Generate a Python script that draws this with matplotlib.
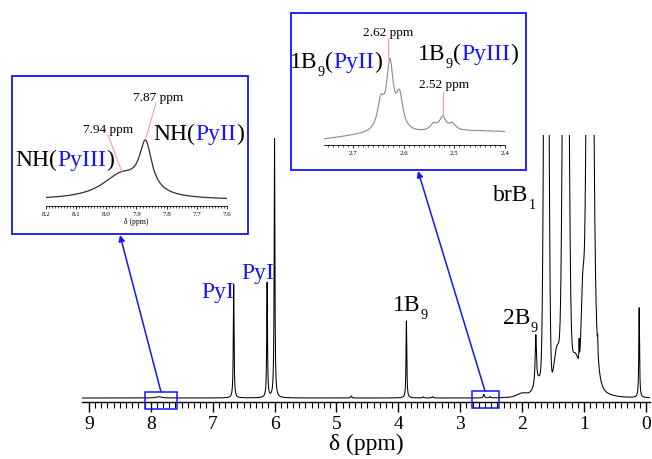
import numpy as np
import matplotlib
matplotlib.use("Agg")
import matplotlib.pyplot as plt
from matplotlib.patches import Rectangle
from matplotlib.ticker import FixedLocator

# ---------------- data ----------------
# main spectrum: sharp (Lorentzian) lines
main_lor_ppm = [7.87, 6.66, 6.12, 6.00, 4.76, 3.87, 3.60, 3.45, 2.62, 2.52, 1.78, 1.08, 0.78, 0.80, 0.11]
main_lor_height = [0.005, 0.433, 0.437, 0.985, 0.008, 0.293, 0.004, 0.005, 0.014, 0.005, 0.19, 0.08, 0.05, 0.17, 0.342]
main_lor_hwhm = [0.05, 0.007, 0.007, 0.007, 0.01, 0.007, 0.01, 0.01, 0.01, 0.01, 0.012, 0.004, 0.004, 0.05, 0.007]
# main spectrum: broad / big (Gaussian) components of the alkyl region
main_gau_ppm = [2.00, 1.70, 1.61, 1.43, 1.30, 1.296, 1.15, 1.02, 0.905]
main_gau_height = [0.012, 0.06, 3.5, 0.17, 0.03, 3.5, 0.14, 0.35, 3.5]
main_gau_sigma = [0.08, 0.08, 0.029, 0.055, 0.4, 0.0357, 0.08, 0.025, 0.0407]

# inset 1: NH region
nh_ppm = [7.87, 7.95]
nh_height = [0.8, 0.4]
nh_hwhm = [0.025, 0.08]

# inset 2: 1B9 region
b9_ppm = [2.645, 2.627, 2.608, 2.541, 2.523, 2.504]
b9_height = [0.33, 0.80, 0.40, 0.08, 0.16, 0.08]
b9_hwhm = [0.008, 0.008, 0.008, 0.008, 0.008, 0.008]
b9_bg_ppm = [2.45, 2.68]
b9_bg_height = [0.13, 0.04]
b9_bg_sigma = [0.15, 0.06]

main_ticks = [9, 8, 7, 6, 5, 4, 3, 2, 1, 0]
inset1_ticks = [8.2, 8.1, 8.0, 7.9, 7.8, 7.7, 7.6]
inset2_ticks = [2.7, 2.6, 2.5, 2.4]
peak_labels_inset1 = ["7.87 ppm", "7.94 ppm"]
peak_labels_inset2 = ["2.62 ppm", "2.52 ppm"]

# ---------------- helpers ----------------
SERIF = "Liberation Serif"
BLUE = "#1414ff"
PINK = "#ff9a9a"
W, H = 652, 459


def lor(x, c, h, g):
    return h * g ** 2 / ((x - c) ** 2 + g ** 2)


def gau(x, c, h, s):
    return h * np.exp(-0.5 * ((x - c) / s) ** 2)


def spectrum(x, lp, lh, lw, gp=(), gh=(), gs=()):
    y = np.zeros_like(x)
    for c, h, g in zip(lp, lh, lw):
        y += lor(x, c, h, g)
    for c, h, s in zip(gp, gh, gs):
        y += gau(x, c, h, s)
    return y


fig = plt.figure(figsize=(W / 100, H / 100), dpi=100)


def px_axes(x0, y0, x1, y1, **kw):
    return fig.add_axes([x0 / W, 1 - y1 / H, (x1 - x0) / W, (y1 - y0) / H], **kw)


def style_axis(ax, labelsize, majlen, minlen, width, pad):
    for s in ("left", "right", "top"):
        ax.spines[s].set_visible(False)
    ax.spines["bottom"].set_linewidth(width)
    ax.yaxis.set_visible(False)
    ax.set_facecolor("none")
    ax.tick_params(axis="x", which="major", direction="out", length=majlen,
                   width=width, labelsize=labelsize, pad=pad)
    ax.tick_params(axis="x", which="minor", direction="out", length=minlen, width=width * 0.8)
    for lab in ax.get_xticklabels():
        lab.set_fontfamily(SERIF)


# ---------------- main spectrum ----------------
ax = px_axes(82, 135, 650, 402)
x = np.linspace(9.11, -0.065, 40000)
y = spectrum(x, main_lor_ppm, main_lor_height, main_lor_hwhm,
             main_gau_ppm, main_gau_height, main_gau_sigma)
ax.plot(x, y, color="black", lw=0.75)
ax.set_xlim(9.11, -0.065)
ax.set_ylim(-4 / 263, 1.0)
ax.xaxis.set_major_locator(FixedLocator(main_ticks))
ax.xaxis.set_minor_locator(FixedLocator(np.round(np.arange(0, 9.001, 0.1), 2)))
ax.set_xticklabels([str(t) for t in main_ticks])
style_axis(ax, 14, 7, 4, 1.0, 3)
ax.set_xlabel("δ (ppm)", fontsize=17, fontfamily=SERIF, labelpad=1)

# ---------------- inset 1 (NH) ----------------
ax1 = px_axes(46, 95, 227, 206)
x1 = np.linspace(8.2, 7.6, 2000)
y1 = spectrum(x1, nh_ppm, nh_height, nh_hwhm)
ax1.plot(x1, y1, color="#303030", lw=0.9)
ax1.set_xlim(8.2, 7.6)
ax1.set_ylim(-0.1, 1.75)
ax1.xaxis.set_major_locator(FixedLocator(inset1_ticks))
ax1.xaxis.set_minor_locator(FixedLocator(np.round(np.arange(7.6, 8.2001, 0.01), 3)))
ax1.set_xticklabels([f"{t:.1f}" for t in inset1_ticks])
style_axis(ax1, 5, 2.5, 1.3, 0.6, 1.5)
ax1.set_xlabel("δ (ppm)", fontsize=5.5, fontfamily=SERIF, labelpad=1)

# ---------------- inset 2 (1B9) ----------------
ax2 = px_axes(324, 40, 505, 145)
x2 = np.linspace(2.757, 2.40, 2000)
y2 = spectrum(x2, b9_ppm, b9_height, b9_hwhm, b9_bg_ppm, b9_bg_height, b9_bg_sigma)
ax2.plot(x2, y2, color="#8a8a8a", lw=0.8)
ax2.set_xlim(2.757, 2.40)
ax2.set_ylim(-3 / 83, 102 / 83)
ax2.xaxis.set_major_locator(FixedLocator(inset2_ticks))
ax2.xaxis.set_minor_locator(FixedLocator(np.round(np.arange(2.40, 2.7501, 0.01), 3)))
ax2.set_xticklabels([f"{t:.1f}" for t in inset2_ticks])
style_axis(ax2, 5, 2.5, 1.3, 0.6, 1.5)

# ---------------- overlay (pixel coordinates, y down) ----------------
ov = fig.add_axes([0, 0, 1, 1], zorder=10)
ov.set_xlim(0, W)
ov.set_ylim(H, 0)
ov.axis("off")
ov.set_facecolor("none")

# inset frames and zoom boxes
for (x0, y0, w, h, lw) in [(12, 76, 236, 158, 1.3), (291, 13, 235, 157, 1.3),
                           (145, 392, 32, 17, 1.1), (472, 391, 27, 17, 1.1)]:
    ov.add_patch(Rectangle((x0, y0), w, h, fill=False, ec=BLUE, lw=lw))

# arrows from zoom boxes to insets
for (xs, ys, xe, ye) in [(161, 392, 120, 235), (485, 391, 418, 171)]:
    ov.annotate("", xy=(xe, ye), xytext=(xs, ys),
                arrowprops=dict(arrowstyle="-|>", color=BLUE, lw=1.1,
                                mutation_scale=9, shrinkA=0, shrinkB=0))

# pink leader lines
for (xa, ya, xb, yb) in [(156, 103, 146, 138), (108, 135, 122, 172),
                         (388, 38, 388, 58), (443, 92, 443, 115)]:
    ov.plot([xa, xb], [ya, yb], color=PINK, lw=0.8)

# ppm labels
ov.text(158, 101, peak_labels_inset1[0], fontsize=9.5, fontfamily=SERIF, ha="center", va="baseline")
ov.text(108, 133, peak_labels_inset1[1], fontsize=9.5, fontfamily=SERIF, ha="center", va="baseline")
ov.text(388, 36, peak_labels_inset2[0], fontsize=9.5, fontfamily=SERIF, ha="center", va="baseline")
ov.text(444, 88, peak_labels_inset2[1], fontsize=9.5, fontfamily=SERIF, ha="center", va="baseline")


def rich(x0, y0, pieces, size):
    prev = None
    prev_main = None
    for s, c, sub in pieces:
        if prev is None:
            t = ov.text(x0, y0, s, color=c, fontsize=size, fontfamily=SERIF,
                        ha="left", va="baseline")
            prev_main = t
        elif sub:
            t = ov.annotate(s, xy=(1, 0), xycoords=prev, xytext=(0.3, -4.3),
                            textcoords="offset points", fontsize=size * 0.6,
                            fontfamily=SERIF, color=c, ha="left", va="bottom")
        else:
            t = ov.annotate(s, xy=(1, 0), xycoords=(prev, prev_main), fontsize=size,
                            fontfamily=SERIF, color=c, ha="left", va="bottom")
            prev_main = t
        prev = t


K = "black"
rich(15, 166, [("NH(", K, False), ("PyIII", BLUE, False), (")", K, False)], 17)
rich(153, 140, [("NH(", K, False), ("PyII", BLUE, False), (")", K, False)], 17)
rich(290, 68, [("1B", K, False), ("9", K, True), ("(", K, False), ("PyII", BLUE, False), (")", K, False)], 17)
rich(418, 60, [("1B", K, False), ("9", K, True), ("(", K, False), ("PyIII", BLUE, False), (")", K, False)], 17)
rich(201, 298, [("PyI", BLUE, False)], 17)
rich(241, 279, [("PyI", BLUE, False)], 17)
rich(393, 311, [("1B", K, False), ("9", K, True)], 17)
rich(503, 324, [("2B", K, False), ("9", K, True)], 17)
rich(493, 201, [("brB", K, False), ("1", K, True)], 17)

fig.savefig("out.png", dpi=100)
